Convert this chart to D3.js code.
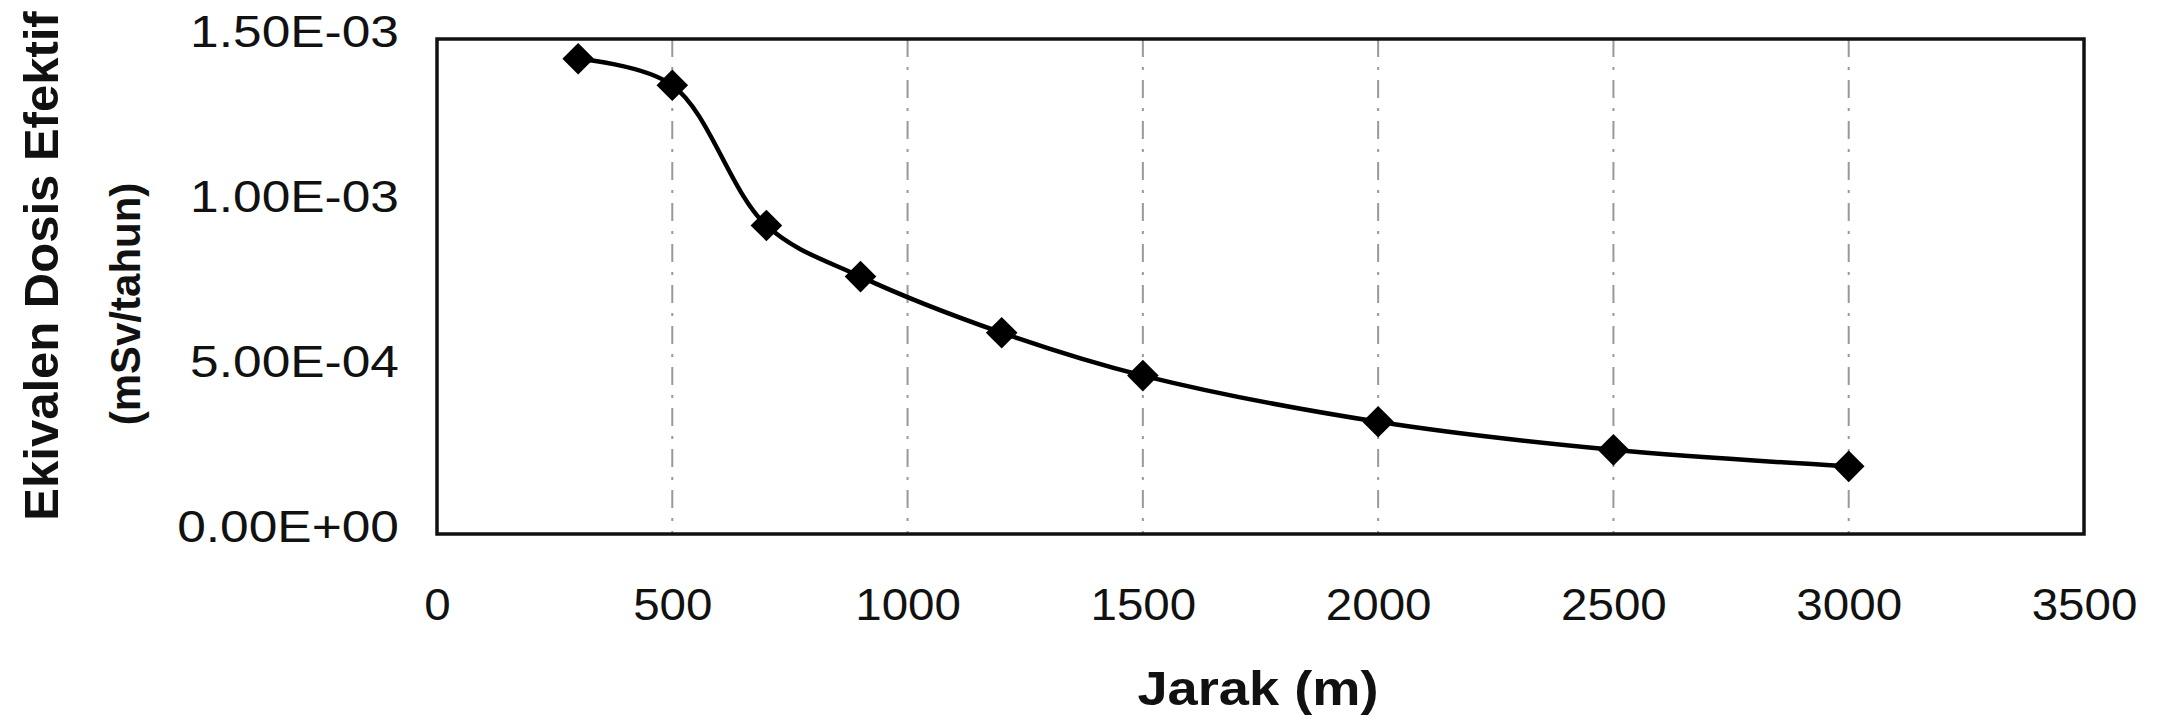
<!DOCTYPE html>
<html>
<head>
<meta charset="utf-8">
<script src="https://cdn.jsdelivr.net/npm/d3@7"></script>
<style>
  body { margin: 0; background: #fff; }
  svg { display: block; font-family: "Liberation Sans", Arial, sans-serif; }
</style>
</head>
<body>
<div id="chart"></div>
<script>
// distance (m) and effective dose equivalent (mSv/tahun)
const jarak = [300, 500, 700, 900, 1200, 1500, 2000, 2500, 3000];
const dosis = [1.44e-3, 1.36e-3, 9.35e-4, 7.8e-4, 6.1e-4, 4.8e-4, 3.4e-4, 2.55e-4, 2.05e-4];
const xTicks = [0, 500, 1000, 1500, 2000, 2500, 3000, 3500];
const yTicks = [0, 5e-4, 1e-3, 1.5e-3];
const yTickLabels = ['0.00E+00', '5.00E-04', '1.00E-03', '1.50E-03'];

const width = 2168, height = 725;
const margin = { top: 39, right: 84, bottom: 191, left: 437 };
const plotW = width - margin.left - margin.right;
const plotH = height - margin.top - margin.bottom;

const svg = d3.select('#chart').append('svg')
    .attr('width', width)
    .attr('height', height);

svg.append('rect').attr('width', width).attr('height', height).attr('fill', '#fff');

const g = svg.append('g')
    .attr('transform', `translate(${margin.left},${margin.top})`);

const x = d3.scaleLinear().domain([0, 3500]).range([0, plotW]);
const y = d3.scaleLinear().domain([0, 1.5e-3]).range([plotH, 0]);

// vertical dashed grid
g.append('g')
    .selectAll('line')
    .data(xTicks.slice(1, -1))
    .join('line')
    .attr('x1', d => x(d)).attr('x2', d => x(d))
    .attr('y1', 0).attr('y2', plotH)
    .attr('stroke', '#999')
    .attr('stroke-width', 2)
    .attr('stroke-dasharray', '18,10,3,10');

// frame
g.append('rect')
    .attr('width', plotW).attr('height', plotH)
    .attr('fill', 'none')
    .attr('stroke', '#111')
    .attr('stroke-width', 3.5);

// x axis
const xAxis = g.append('g')
    .attr('transform', `translate(0,${plotH})`)
    .call(d3.axisBottom(x).tickValues(xTicks).tickSize(0).tickFormat(d3.format('d')));
xAxis.select('.domain').remove();
xAxis.selectAll('text')
    .attr('y', 0)
    .attr('dy', 0)
    .attr('transform', 'translate(0,86) scale(1.08,1)')
    .attr('font-size', 44)
    .attr('fill', '#111');

// y axis
const yAxis = g.append('g')
    .call(d3.axisLeft(y).tickValues(yTicks).tickSize(0).tickFormat((d, i) => yTickLabels[i]));
yAxis.select('.domain').remove();
yAxis.selectAll('text')
    .attr('x', 0)
    .attr('dy', 0)
    .attr('transform', 'translate(-38,7) scale(1.17,1)')
    .attr('font-size', 44)
    .attr('fill', '#111');

// smoothed line
const line = d3.line()
    .x((d, i) => x(jarak[i]))
    .y(d => y(d))
    .curve(d3.curveCatmullRom.alpha(0.5));

g.append('path')
    .datum(dosis)
    .attr('d', line)
    .attr('fill', 'none')
    .attr('stroke', '#000')
    .attr('stroke-width', 4.5);

// diamond markers
const diamond = d3.symbol().type(d3.symbolSquare).size(500);
g.append('g')
    .selectAll('path')
    .data(dosis)
    .join('path')
    .attr('d', diamond)
    .attr('transform', (d, i) => `translate(${x(jarak[i])},${y(d)}) rotate(45)`)
    .attr('fill', '#000');

// axis titles
svg.append('text')
    .attr('transform', 'translate(1258,705) scale(1.13,1)')
    .attr('text-anchor', 'middle')
    .attr('font-size', 48)
    .attr('font-weight', 'bold')
    .attr('fill', '#111')
    .text('Jarak (m)');

svg.append('text')
    .attr('transform', 'translate(58,266) rotate(-90)')
    .attr('text-anchor', 'middle')
    .attr('font-size', 49)
    .attr('font-weight', 'bold')
    .attr('fill', '#111')
    .text('Ekivalen Dosis Efektif');

svg.append('text')
    .attr('transform', 'translate(140,304) rotate(-90)')
    .attr('text-anchor', 'middle')
    .attr('font-size', 42)
    .attr('font-weight', 'bold')
    .attr('fill', '#111')
    .text('(mSv/tahun)');
</script>
</body>
</html>
